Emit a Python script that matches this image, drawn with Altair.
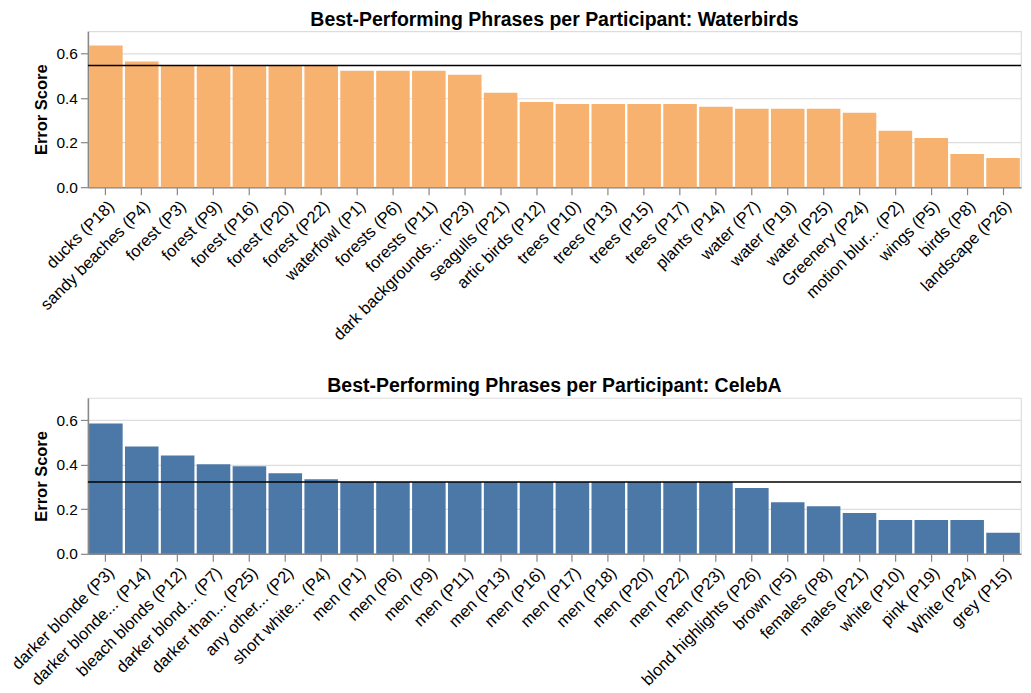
import altair as alt
import pandas as pd

wb_labels = ["ducks (P18)", "sandy beaches (P4)", "forest (P3)", "forest (P9)", "forest (P16)",
             "forest (P20)", "forest (P22)", "waterfowl (P1)", "forests (P6)", "forests (P11)",
             "dark backgrounds... (P23)", "seagulls (P21)", "artic birds (P12)", "trees (P10)",
             "trees (P13)", "trees (P15)", "trees (P17)", "plants (P14)", "water (P7)",
             "water (P19)", "water (P25)", "Greenery (P24)", "motion blur... (P2)", "wings (P5)",
             "birds (P8)", "landscape (P26)"]
wb_values = [0.636, 0.564, 0.546, 0.546, 0.546, 0.546, 0.546, 0.523, 0.523, 0.523,
             0.505, 0.424, 0.383, 0.374, 0.374, 0.374, 0.374, 0.361, 0.352, 0.352,
             0.352, 0.334, 0.253, 0.221, 0.149, 0.131]
wb_baseline = [0.547]

cb_labels = ["darker blonde (P3)", "darker blonde... (P14)", "bleach blonds (P12)",
             "darker blond... (P7)", "darker than... (P25)", "any other... (P2)",
             "short white... (P4)", "men (P1)", "men (P6)", "men (P9)", "men (P11)",
             "men (P13)", "men (P16)", "men (P17)", "men (P18)", "men (P20)", "men (P22)",
             "men (P23)", "blond highlights (P26)", "brown (P5)", "females (P8)",
             "males (P21)", "white (P10)", "pink (P19)", "White (P24)", "grey (P15)"]
cb_values = [0.585, 0.482, 0.442, 0.402, 0.393, 0.362, 0.335, 0.322, 0.322, 0.322, 0.322,
             0.322, 0.322, 0.322, 0.322, 0.322, 0.322, 0.322, 0.295, 0.232, 0.214,
             0.183, 0.152, 0.152, 0.152, 0.094]
cb_baseline = [0.323]

W, H = 934, 156


def panel(labels, values, baseline, color, title):
    df = pd.DataFrame({"phrase": labels, "score": values})
    bdf = pd.DataFrame({"base": baseline})
    bars = alt.Chart(df).mark_bar(color=color).encode(
        x=alt.X("phrase:N", sort=labels, title=None,
                scale=alt.Scale(paddingInner=0.065),
                axis=alt.Axis(labelAngle=-45, labelFontSize=16.5, labelLimit=400)),
        y=alt.Y("score:Q", title="Error Score",
                scale=alt.Scale(domain=[0, 0.7], nice=False),
                axis=alt.Axis(labelFontSize=15.5)),
    )
    rule = alt.Chart(bdf).mark_rule(color="black", strokeWidth=1.5).encode(
        y=alt.Y("base:Q")
    )
    return alt.layer(bars, rule).properties(width=W, height=H, title=title)


top = panel(wb_labels, wb_values, wb_baseline, "#f8b26f",
            "Best-Performing Phrases per Participant: Waterbirds")
bottom = panel(cb_labels, cb_values, cb_baseline, "#4c78a8",
               "Best-Performing Phrases per Participant: CelebA")

chart = alt.vconcat(top, bottom, spacing=30).properties(
    padding={"top": 0, "left": 0, "right": 0, "bottom": 0}
).configure_axis(
    labelFont="Liberation Sans", titleFont="Liberation Sans",
    titleFontSize=16.5, tickSize=7.5, labelPadding=3,
    titlePadding=6, domainWidth=1.5, tickWidth=1.2, gridWidth=1.2,
    labelColor="#000", titleColor="#000"
).configure_title(
    font="Liberation Sans", fontSize=19.5, offset=1
).configure_view(strokeWidth=1.2)

chart.save("out.html", embed_options={"renderer": "svg", "actions": False})
